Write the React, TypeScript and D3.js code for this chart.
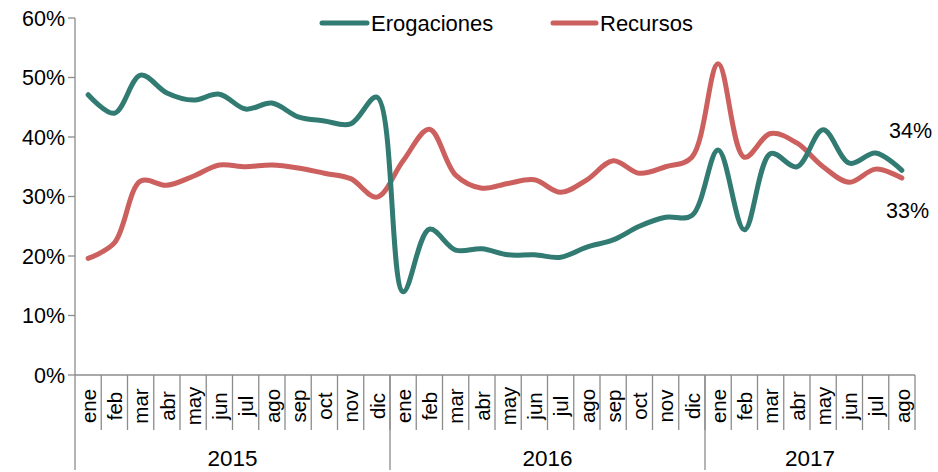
import * as d3 from 'd3'

const months = ['ene', 'feb', 'mar', 'abr', 'may', 'jun', 'jul', 'ago', 'sep', 'oct', 'nov', 'dic']
const years = [
  { label: '2015', count: 12 },
  { label: '2016', count: 12 },
  { label: '2017', count: 8 },
]
const yTicks = [0, 10, 20, 30, 40, 50, 60]

const erogaciones = [
  47.1, 44.0, 50.4, 47.4, 46.2, 47.2, 44.7, 45.7, 43.4, 42.7, 42.2, 46.7,
  14.0, 24.5, 21.0, 21.2, 20.2, 20.2, 19.8, 21.5, 22.7, 25.0, 26.5, 26.8,
  37.8, 24.4, 37.2, 35.0, 41.2, 35.6, 37.3, 34.4,
]
const recursos = [
  19.6, 22.2, 32.6, 31.9, 33.4, 35.3, 35.0, 35.3, 34.8, 33.9, 33.0, 29.9,
  36.0, 41.3, 33.6, 31.4, 32.2, 32.8, 30.7, 32.8, 36.0, 33.9, 35.0, 36.6,
  52.3, 36.6, 40.6, 39.0, 35.0, 32.4, 34.6, 33.1,
]

const TEAL = '#317b72'
const RED = '#cc605e'
const AXIS = '#8c8c8c'
const FONT = 'Liberation Sans, Arial, sans-serif'

const left = 75
const right = 915
const top = 18
const bottom = 375

export default function App() {
  const monthLabels = years.flatMap((y) => months.slice(0, y.count))
  const n = monthLabels.length
  const x = d3.scaleLinear().domain([0, n]).range([left, right])
  const y = d3.scaleLinear().domain([0, 60]).range([bottom, top])
  const line = d3
    .line<number>()
    .x((_, i) => x(i + 0.5))
    .y((d) => y(d))
    .curve(d3.curveCatmullRom.alpha(0.5))

  let acc = 0
  const yearSpans = years.map((yr) => {
    const s = { ...yr, start: acc, end: acc + yr.count }
    acc += yr.count
    return s
  })

  return (
    <svg width={938} height={472} style={{ position: 'absolute', left: 0, top: 0 }} fontFamily={FONT}>
      {/* y axis */}
      <line x1={left} x2={left} y1={top} y2={470} stroke={AXIS} strokeWidth={1.3} />
      {yTicks.map((t) => (
        <g key={t}>
          <line x1={left - 7} x2={left} y1={y(t)} y2={y(t)} stroke={AXIS} strokeWidth={1.3} />
          <text x={left - 10} y={y(t)} dy="0.35em" textAnchor="end" fontSize={21.5} fill="#000">
            {t}%
          </text>
        </g>
      ))}
      {/* x axis */}
      <line x1={left} x2={right} y1={bottom} y2={bottom} stroke={AXIS} strokeWidth={1.3} />
      {d3.range(1, n + 1).map((i) => (
        <line key={'t' + i} x1={x(i)} x2={x(i)} y1={bottom} y2={430} stroke={AXIS} strokeWidth={1.3} />
      ))}
      {yearSpans.slice(0, -1).map((s) => (
        <line key={'ys' + s.label} x1={x(s.end)} x2={x(s.end)} y1={bottom} y2={470} stroke={AXIS} strokeWidth={1.3} />
      ))}
      {monthLabels.map((m, i) => (
        <text
          key={'m' + i}
          transform={`translate(${x(i + 0.5) + 0.5},406) rotate(-90)`}
          dy="0.35em"
          textAnchor="middle"
          fontSize={20.5}
          fill="#000"
        >
          {m}
        </text>
      ))}
      {yearSpans.map((s) => (
        <text key={'y' + s.label} x={(x(s.start) + x(s.end)) / 2} y={466} textAnchor="middle" fontSize={22.5} fill="#000">
          {s.label}
        </text>
      ))}
      {/* series */}
      <path d={line(recursos) ?? ''} fill="none" stroke={RED} strokeWidth={5} strokeLinecap="round" />
      <path d={line(erogaciones) ?? ''} fill="none" stroke={TEAL} strokeWidth={5} strokeLinecap="round" />
      {/* end labels */}
      <text x={889} y={138} fontSize={21.5} fill="#000">34%</text>
      <text x={886} y={218} fontSize={21.5} fill="#000">33%</text>
      {/* legend */}
      <line x1={322} x2={367} y1={23} y2={23} stroke={TEAL} strokeWidth={5} strokeLinecap="round" />
      <text x={371} y={31} fontSize={22} fill="#000">Erogaciones</text>
      <line x1={553} x2={596} y1={23} y2={23} stroke={RED} strokeWidth={5} strokeLinecap="round" />
      <text x={600} y={31} fontSize={22} fill="#000">Recursos</text>
    </svg>
  )
}
